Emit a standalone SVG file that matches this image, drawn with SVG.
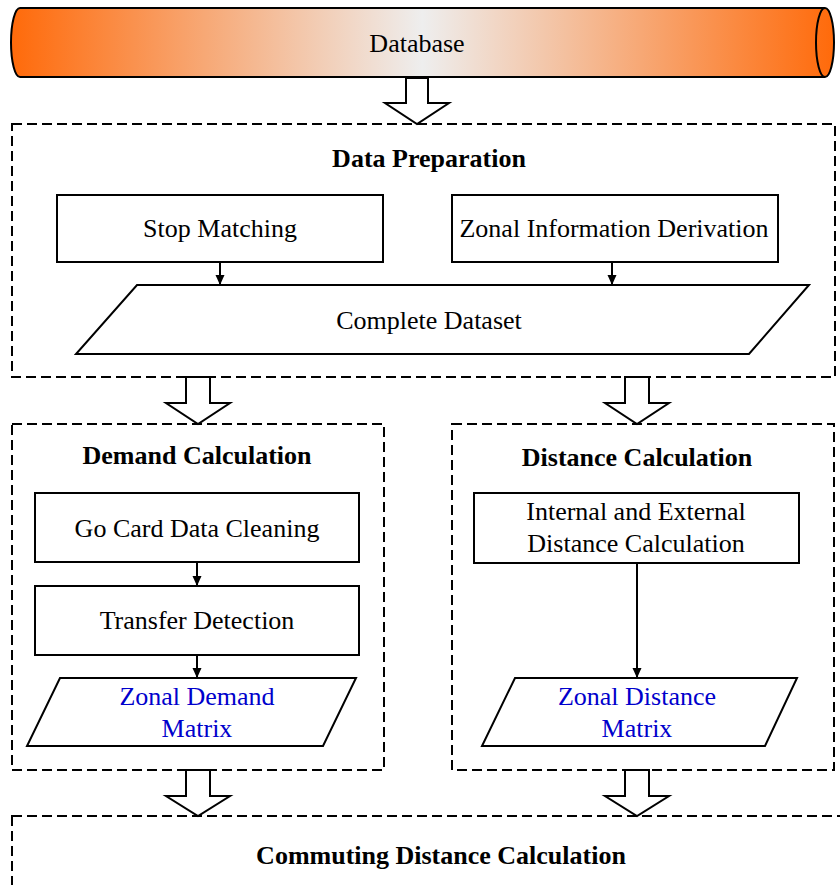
<svg xmlns="http://www.w3.org/2000/svg" width="840" height="885" viewBox="0 0 840 885">
  <defs>
    <linearGradient id="pipeFill" x1="0" y1="0" x2="1" y2="0">
      <stop offset="0" stop-color="#ff6a0a"/>
      <stop offset="0.5" stop-color="#eeeeee"/>
      <stop offset="1" stop-color="#ff6a0a"/>
    </linearGradient>
    <marker id="head" viewBox="0 0 10 10" refX="10" refY="5" markerWidth="10" markerHeight="10" markerUnits="userSpaceOnUse" orient="auto">
      <path d="M0,0.5 L10,5 L0,9.5 Z" fill="#000"/>
    </marker>
  </defs>
  <style>
    .txt { font-family: "Liberation Serif", "Times New Roman", serif; font-size: 26px; fill: #000; text-anchor: middle; }
    .ttl { font-weight: bold; }
    .blue { fill: #0000cc; }
    .box { fill: #fff; stroke: #000; stroke-width: 2; }
    .group { fill: none; stroke: #000; stroke-width: 2; stroke-dasharray: 10 5; }
    .hollow { fill: #fff; stroke: #000; stroke-width: 2; stroke-linejoin: miter; }
    .link { fill: none; stroke: #000; stroke-width: 2; marker-end: url(#head); }
  </style>

  <!-- Source database drawn as a horizontal cylinder -->
  <g id="database">
    <path d="M20,8 L825,8 A9,34.5 0 0 1 825,77 L20,77 A9,34.5 0 0 1 20,8 Z" fill="url(#pipeFill)" stroke="#000" stroke-width="2"/>
    <path d="M825,8 A9,34.5 0 0 0 825,77" fill="none" stroke="#000" stroke-width="2"/>
    <text class="txt" x="417" y="52">Database</text>
  </g>

  <!-- Stage containers -->
  <g id="data-preparation">
    <rect class="group" x="12" y="124" width="823" height="253"/>
    <text class="txt ttl" x="429" y="167">Data Preparation</text>
  </g>
  <g id="stop-matching">
    <rect class="box" x="57" y="195" width="326" height="67"/>
    <text class="txt" x="220" y="237">Stop Matching</text>
  </g>
  <g id="zonal-information-derivation">
    <rect class="box" x="452" y="195" width="326" height="67"/>
    <text class="txt" x="614" y="237">Zonal Information Derivation</text>
  </g>
  <g id="complete-dataset">
    <polygon class="box" points="137,285 809,285 749,354 76,354"/>
    <text class="txt" x="429" y="329">Complete Dataset</text>
  </g>

  <g id="demand-calculation">
    <rect class="group" x="12" y="424" width="372" height="346"/>
    <text class="txt ttl" x="197" y="464">Demand Calculation</text>
  </g>
  <g id="go-card-data-cleaning">
    <rect class="box" x="35" y="493" width="324" height="69"/>
    <text class="txt" x="197" y="537">Go Card Data Cleaning</text>
  </g>
  <g id="transfer-detection">
    <rect class="box" x="35" y="586" width="324" height="69"/>
    <text class="txt" x="197" y="629">Transfer Detection</text>
  </g>
  <g id="zonal-demand-matrix">
    <polygon class="box" points="60,678 356,678 323,746 27,746"/>
    <text class="txt blue" x="197" y="705">Zonal Demand</text>
    <text class="txt blue" x="197" y="737">Matrix</text>
  </g>

  <g id="distance-calculation">
    <rect class="group" x="452" y="424" width="382" height="346"/>
    <text class="txt ttl" x="637" y="466">Distance Calculation</text>
  </g>
  <g id="internal-external-distance">
    <rect class="box" x="474" y="493" width="325" height="70"/>
    <text class="txt" x="636" y="520">Internal and External</text>
    <text class="txt" x="636" y="552">Distance Calculation</text>
  </g>
  <g id="zonal-distance-matrix">
    <polygon class="box" points="515,678 797,678 765,746 482,746"/>
    <text class="txt blue" x="637" y="705">Zonal Distance</text>
    <text class="txt blue" x="637" y="737">Matrix</text>
  </g>

  <g id="commuting-distance-calculation">
    <rect class="group" x="12" y="816" width="900" height="200"/>
    <text class="txt ttl" x="441" y="864">Commuting Distance Calculation</text>
  </g>

  <!-- Connectors: hollow block arrows between stages, thin arrows inside stages -->
  <g id="connectors">
    <polygon class="hollow" points="406,78 428,78 428,103 449,103 417,124 385,103 406,103"/>
    <polygon class="hollow" points="186,377 210,377 210,403 230,403 198,424 166,403 186,403"/>
    <polygon class="hollow" points="625,377 649,377 649,403 669,403 637,424 605,403 625,403"/>
    <polygon class="hollow" points="186,770 210,770 210,796 230,796 198,816 166,796 186,796"/>
    <polygon class="hollow" points="625,770 649,770 649,796 669,796 637,816 605,796 625,796"/>

    <line class="link" x1="220" y1="262" x2="220" y2="285"/>
    <line class="link" x1="612" y1="262" x2="612" y2="285"/>
    <line class="link" x1="197" y1="562" x2="197" y2="586"/>
    <line class="link" x1="197" y1="655" x2="197" y2="678"/>
    <line class="link" x1="637" y1="563" x2="637" y2="678"/>
  </g>
</svg>
